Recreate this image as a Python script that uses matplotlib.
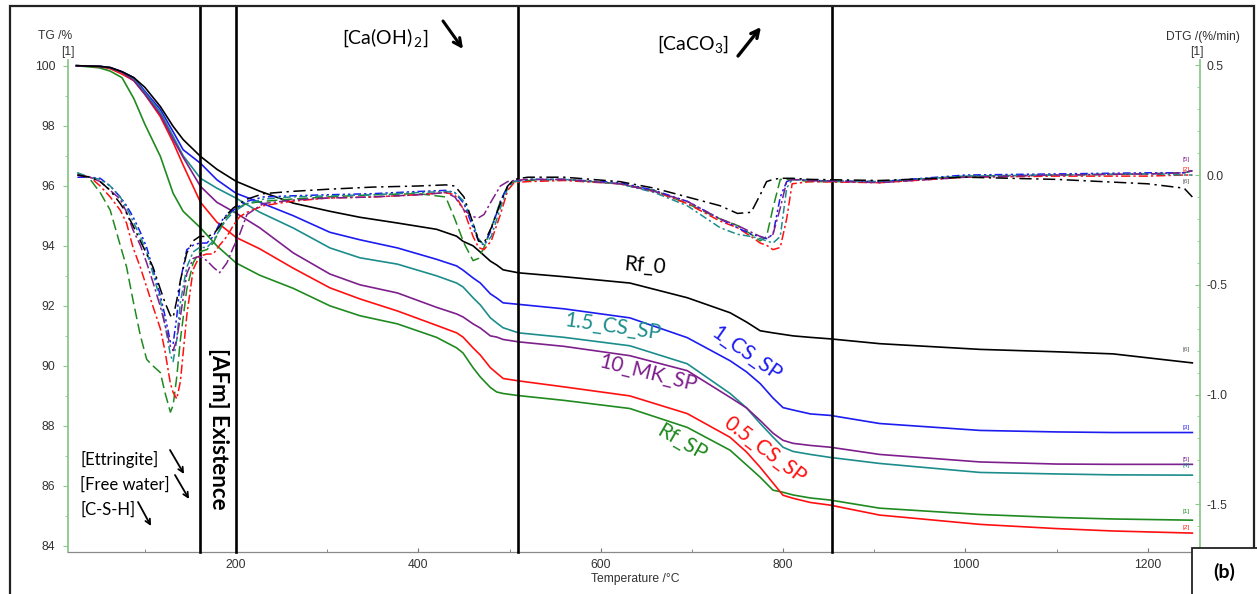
import numpy as np
import matplotlib
matplotlib.use("Agg")
import matplotlib.pyplot as plt
from matplotlib.patches import Rectangle

plt.rcParams["axes.unicode_minus"] = False
plt.rcParams["mathtext.fontset"] = "custom"
plt.rcParams["mathtext.rm"] = "Lato"
plt.rcParams["mathtext.it"] = "Lato"

# ---------------- data ----------------
names = ["Rf_SP", "0.5_CS_SP", "1_CS_SP", "1.5_CS_SP", "10_MK_SP", "Rf_0"]
colors = ["#1f8a1f", "#ff1010", "#1c1cf0", "#1c8c8c", "#7d1f8c", "#000000"]

# TG curves, %
t_tg = [25, 50, 62, 75, 88, 100, 117, 131, 142, 161,
        179, 200, 226, 263, 303, 336, 377, 420, 442, 449,
        460, 468, 479, 486, 493, 510, 560, 632, 695, 742,
        760, 775, 789, 800, 811, 830, 852, 906, 1016, 1100,
        1162, 1249]
tg_rf_sp = [100, 99.93, 99.82, 99.6, 98.9, 98.05, 96.98, 95.75, 95.15, 94.6,
            94.0, 93.43, 93.02, 92.58, 92.0, 91.67, 91.4, 90.95, 90.6, 90.43,
            89.94, 89.63, 89.28, 89.13, 89.08, 89.01, 88.85, 88.58, 87.95, 87.19,
            86.7, 86.29, 85.86, 85.79, 85.7, 85.6, 85.53, 85.26, 85.05, 84.95,
            84.9, 84.86]
tg_05 = [100, 99.97, 99.9, 99.72, 99.5, 99.05, 98.3, 97.45, 96.69, 95.45,
         94.79, 94.28, 93.9, 93.25, 92.6, 92.23, 91.83, 91.35, 91.1, 90.96,
         90.6, 90.36, 89.94, 89.76, 89.58, 89.5, 89.3, 89.0, 88.41, 87.62,
         87.13, 86.62, 86.1, 85.69, 85.59, 85.45, 85.36, 85.03, 84.72, 84.58,
         84.5, 84.43]
tg_1 = [100, 99.98, 99.94, 99.8, 99.6, 99.15, 98.54, 97.8, 97.2, 96.75,
        96.2, 95.75, 95.45, 95.0, 94.45, 94.2, 93.93, 93.55, 93.33, 93.19,
        92.93, 92.76, 92.4, 92.26, 92.1, 92.05, 91.9, 91.6, 90.94, 90.17,
        89.8, 89.41, 88.93, 88.61, 88.53, 88.4, 88.35, 88.08, 87.85, 87.8,
        87.78, 87.78]
tg_15 = [100, 99.98, 99.93, 99.78, 99.55, 99.1, 98.45, 97.65, 97.0, 96.25,
         95.92, 95.59, 95.12, 94.59, 93.93, 93.6, 93.39, 93.0, 92.76, 92.63,
         92.27, 92.03, 91.6, 91.43, 91.27, 91.1, 90.95, 90.67, 90.07, 89.08,
         88.6, 88.08, 87.63, 87.29, 87.15, 87.05, 86.95, 86.75, 86.45, 86.4,
         86.37, 86.36]
tg_10mk = [100, 99.98, 99.93, 99.78, 99.5, 99.05, 98.37, 97.55, 96.95, 95.98,
           95.45, 95.09, 94.6, 93.76, 93.06, 92.7, 92.43, 91.95, 91.73, 91.63,
           91.4, 91.26, 91.0, 90.96, 90.88, 90.8, 90.65, 90.34, 89.84, 88.95,
           88.6, 88.18, 87.76, 87.52, 87.42, 87.35, 87.29, 87.05, 86.8, 86.73,
           86.72, 86.72]
tg_rf0 = [100, 99.98, 99.94, 99.8, 99.6, 99.28, 98.64, 97.98, 97.54, 96.98,
          96.55, 96.15, 95.82, 95.42, 95.15, 94.95, 94.76, 94.55, 94.32, 94.15,
          94.0, 93.79, 93.49, 93.36, 93.2, 93.1, 92.97, 92.76, 92.27, 91.77,
          91.46, 91.17, 91.1, 91.05, 91.0, 90.95, 90.9, 90.74, 90.55, 90.47,
          90.4, 90.1]

# DTG curves, %/min
t_dtg = [26, 40, 51, 62, 73, 80, 87, 95, 102, 109,
         117, 122, 128, 131, 135, 139, 146, 153, 160, 168,
         175, 182, 190, 197, 204, 212, 230, 260, 300, 350,
         400, 430, 440, 450, 460, 466, 472, 480, 490, 498,
         505, 520, 560, 621, 659, 695, 731, 750, 765, 775,
         782, 789, 797, 804, 810, 830, 906, 1000, 1100, 1200,
         1240, 1249]
dtg_rf_sp = [0.01, -0.02, -0.08, -0.16, -0.32, -0.42, -0.57, -0.73, -0.84, -0.87,
             -0.90, -0.99, -1.08, -1.05, -0.92, -0.75, -0.52, -0.40, -0.35, -0.34,
             -0.31, -0.25, -0.19, -0.16, -0.145, -0.13, -0.12, -0.11, -0.10, -0.09,
             -0.085, -0.10, -0.20, -0.31, -0.39, -0.38, -0.33, -0.24, -0.12, -0.05,
             -0.03, -0.025, -0.02, -0.04, -0.07, -0.13, -0.20, -0.23, -0.27, -0.30,
             -0.28, -0.15, -0.02, -0.02, -0.02, -0.03, -0.03, -0.005, 0.0, 0.005,
             0.01, 0.02]
dtg_05 = [0.0, -0.01, -0.05, -0.10, -0.16, -0.22, -0.33, -0.42, -0.51, -0.60,
          -0.70, -0.80, -0.95, -0.99, -1.02, -0.94, -0.64, -0.43, -0.37, -0.36,
          -0.36, -0.32, -0.28, -0.23, -0.19, -0.17, -0.14, -0.12, -0.105, -0.10,
          -0.09, -0.08, -0.09, -0.16, -0.28, -0.33, -0.34, -0.30, -0.18, -0.07,
          -0.035, -0.03, -0.025, -0.04, -0.075, -0.13, -0.21, -0.24, -0.28, -0.31,
          -0.32, -0.34, -0.33, -0.20, -0.04, -0.03, -0.035, -0.01, -0.005, -0.005,
          0.0, 0.0]
dtg_1 = [-0.01, -0.01, -0.015, -0.05, -0.10, -0.14, -0.19, -0.26, -0.33, -0.43,
         -0.55, -0.64, -0.76, -0.77, -0.645, -0.48, -0.34, -0.32, -0.31, -0.31,
         -0.28, -0.22, -0.18, -0.16, -0.14, -0.12, -0.10, -0.095, -0.09, -0.085,
         -0.075, -0.07, -0.08, -0.13, -0.24, -0.30, -0.32, -0.25, -0.12, -0.05,
         -0.03, -0.02, -0.02, -0.035, -0.07, -0.12, -0.20, -0.24, -0.27, -0.28,
         -0.29, -0.27, -0.10, -0.03, -0.02, -0.025, -0.03, 0.0, 0.005, 0.01,
         0.01, 0.02]
dtg_15 = [0.01, -0.01, -0.02, -0.05, -0.10, -0.15, -0.21, -0.28, -0.35, -0.45,
          -0.57, -0.68, -0.82, -0.85, -0.75, -0.58, -0.42, -0.35, -0.33, -0.33,
          -0.30, -0.25, -0.20, -0.17, -0.15, -0.13, -0.11, -0.10, -0.095, -0.09,
          -0.08, -0.075, -0.08, -0.12, -0.22, -0.29, -0.32, -0.28, -0.15, -0.06,
          -0.03, -0.02, -0.02, -0.04, -0.08, -0.14, -0.24, -0.27, -0.28, -0.29,
          -0.30, -0.31, -0.28, -0.06, -0.02, -0.025, -0.03, -0.005, 0.0, 0.005,
          0.0, 0.0]
dtg_10mk = [0.0, -0.01, -0.03, -0.07, -0.11, -0.17, -0.25, -0.32, -0.40, -0.49,
            -0.60, -0.68, -0.78, -0.80, -0.75, -0.645, -0.45, -0.38, -0.37, -0.39,
            -0.42, -0.445, -0.40, -0.33, -0.27, -0.18, -0.13, -0.115, -0.105, -0.10,
            -0.09, -0.08, -0.10, -0.16, -0.19, -0.195, -0.18, -0.12, -0.05, -0.03,
            -0.025, -0.02, -0.02, -0.04, -0.075, -0.12, -0.20, -0.23, -0.26, -0.28,
            -0.29, -0.27, -0.15, -0.03, -0.02, -0.025, -0.035, -0.01, 0.0, 0.005,
            0.01, 0.02]
dtg_rf0 = [0.0, -0.01, -0.03, -0.07, -0.13, -0.175, -0.23, -0.30, -0.36, -0.42,
           -0.52, -0.58, -0.64, -0.65, -0.57, -0.48, -0.355, -0.30, -0.28, -0.28,
           -0.27, -0.235, -0.18, -0.15, -0.13, -0.11, -0.085, -0.075, -0.065, -0.055,
           -0.05, -0.045, -0.05, -0.10, -0.22, -0.30, -0.31, -0.24, -0.13, -0.05,
           -0.02, -0.01, -0.01, -0.03, -0.06, -0.10, -0.14, -0.175, -0.17, -0.09,
           -0.03, -0.02, -0.015, -0.015, -0.015, -0.02, -0.025, -0.01, -0.02, -0.04,
           -0.06, -0.10]

tg_all = [tg_rf_sp, tg_05, tg_1, tg_15, tg_10mk, tg_rf0]
dtg_all = [dtg_rf_sp, dtg_05, dtg_1, dtg_15, dtg_10mk, dtg_rf0]
dash_styles = [(0, (7, 3)), (0, (6, 2, 1.5, 2)), (0, (5, 2, 1.5, 2, 1.5, 2)),
               (0, (5, 2, 1.5, 2)), (0, (7, 2, 1.5, 2)), (0, (8, 3, 1.5, 3))]
region_lines = [161, 200, 509, 854]

# ---------------- figure ----------------
W, H = 1257, 594


def fx(x):
    return x / W


def fy(y):
    return 1 - y / H


fig = plt.figure(figsize=(W / 100, H / 100), dpi=100)
ax = fig.add_axes([fx(68), fy(552), fx(1200) - fx(68), fy(60) - fy(552)])
ax2 = ax.twinx()

for i in range(6):
    ax.plot(t_tg, tg_all[i], color=colors[i], lw=1.2, zorder=3)
    ax2.plot(t_dtg, dtg_all[i], color=colors[i], lw=1.1, linestyle=dash_styles[i])

ax.set_xlim(15.7, 1257.4)
ax.set_ylim(83.8, 100.19)
ax2.set_ylim(-1.7175, 0.524)

# vertical region separators running up to the frame top
for xv in region_lines:
    ax.axvline(xv, ymin=0, ymax=(552 - 6) / (552 - 60), color="black", lw=1.9, clip_on=False, zorder=5)

tick_font = dict(family="Liberation Sans", size=8.7)
green_axis = "#8cc88c"
for a in (ax, ax2):
    a.spines["top"].set_visible(False)
ax.spines["right"].set_visible(False)
ax2.spines["left"].set_visible(False)
ax2.spines["bottom"].set_visible(False)
ax.spines["left"].set_color(green_axis)
ax2.spines["right"].set_color(green_axis)
ax.spines["bottom"].set_color("#8a8a8a")
ax.spines["left"].set_linewidth(1.3)
ax2.spines["right"].set_linewidth(1.3)
ax.spines["bottom"].set_linewidth(0.9)

ax.set_yticks([84, 86, 88, 90, 92, 94, 96, 98, 100])
ax.set_yticks(np.arange(85, 100, 2), minor=True)
ax.set_xticks([200, 400, 600, 800, 1000, 1200])
ax.set_xticks([100, 300, 500, 700, 900, 1100], minor=True)
ax2.set_yticks([-1.5, -1.0, -0.5, 0.0, 0.5])
ax2.set_yticks(np.arange(-1.7, 0.55, 0.1), minor=True)
ax2.set_yticklabels(["-1.5", "-1.0", "-0.5", "0.0", "0.5"])

ax.tick_params(axis="y", which="both", direction="out", color=green_axis, pad=5.5, labelcolor="#333333")
ax.tick_params(axis="y", which="major", length=3.5)
ax.tick_params(axis="y", which="minor", length=2.5)
ax.tick_params(axis="x", which="both", direction="in", color="#777777", pad=5, labelcolor="#333333")
ax.tick_params(axis="x", which="major", length=3)
ax.tick_params(axis="x", which="minor", length=2)
ax2.tick_params(axis="y", which="both", direction="in", color=green_axis, pad=5, labelcolor="#333333")
ax2.tick_params(axis="y", which="major", length=3.5)
ax2.tick_params(axis="y", which="minor", length=2.5)
for lab in ax.get_xticklabels() + ax.get_yticklabels() + ax2.get_yticklabels():
    lab.set_fontfamily("Liberation Sans")
    lab.set_fontsize(8.7)

# axis titles
fig.text(fx(55), fy(36), "TG /%", ha="center", va="center", color="#333333", **tick_font)
fig.text(fx(68), fy(52), "[1]", ha="center", va="center", color="#333333", **tick_font)
fig.text(fx(1203), fy(37), "DTG /(%/min)", ha="center", va="center", color="#333333", **tick_font)
fig.text(fx(1197), fy(52), "[1]", ha="center", va="center", color="#333333", **tick_font)
fig.text(fx(635), fy(579), "Temperature /°C", ha="center", va="center", color="#333333", **tick_font)

# curve labels
lab_font = ["Lato", "DejaVu Sans"]
curve_labels = [("Rf_SP", 689, 87.46, -30), ("0.5_CS_SP", 780, 87.19, -37),
                ("1_CS_SP", 760, 90.4, -35), ("1.5_CS_SP", 613, 91.3, -8),
                ("10_MK_SP", 652, 89.75, -14), ("Rf_0", 648, 93.33, -5)]
for i, (txt, xt, yt, rot) in enumerate(curve_labels):
    ax.text(xt, yt, txt, color=colors[i], fontsize=15, family=lab_font, rotation=rot,
            rotation_mode="anchor", ha="center", va="center", zorder=6)

# end-of-curve markers [n]
mark_y = [("[1]", 511, colors[0]), ("[2]", 528, colors[1]), ("[3]", 427, colors[2]),
          ("[4]", 465, colors[3]), ("[5]", 459, colors[4]), ("[6]", 350, "#555555"),
          ("[5]", 160, colors[4]), ("[2]", 170, colors[1]), ("[6]", 181, "#555555")]
for txt, yy, cc in mark_y:
    fig.text(fx(1186), fy(yy), txt, color=cc, fontsize=4.5, family="Liberation Sans", ha="center", va="center")

# annotations
fig.text(fx(385), fy(38), "[Ca(OH)$_{\\,2}$]", fontsize=14, family=lab_font, ha="center", va="center")
fig.text(fx(693), fy(44), "[CaCO$_3$]", fontsize=14, family=lab_font, ha="center", va="center")
fig.text(fx(218), fy(429), "[AFm] Existence", fontsize=16, weight="bold", family=lab_font,
         rotation=-90, ha="center", va="center")
fig.text(fx(80), fy(459), "[Ettringite]", fontsize=12, family=lab_font, ha="left", va="center")
fig.text(fx(80), fy(485), "[Free water]", fontsize=12, family=lab_font, ha="left", va="center")
fig.text(fx(80), fy(510), "[C-S-H]", fontsize=12, family=lab_font, ha="left", va="center")

arrows = [((443, 21), (463, 49), 2.2, 14), ((738, 56), (761, 27), 2.4, 14),
          ((170, 450), (184, 474), 1.3, 9), ((175, 475), (189, 499), 1.3, 9),
          ((138, 502), (151, 526), 1.3, 9)]
for (x0, y0), (x1, y1), lw, ms in arrows:
    ax.annotate("", xy=(x1, H - y1), xytext=(x0, H - y0), xycoords="figure pixels",
                textcoords="figure pixels", annotation_clip=False,
                arrowprops=dict(arrowstyle="->", lw=lw, color="black", shrinkA=0, shrinkB=0,
                                mutation_scale=ms))

# outer frame and panel tag
fig.add_artist(Rectangle((fx(10), -0.02), fx(1254) - fx(10), fy(6) + 0.02, transform=fig.transFigure,
                         fill=False, lw=1.6, ec="#222222"))
fig.add_artist(Rectangle((fx(1192), -0.02), fx(1257) - fx(1192) + 0.01, fy(548) + 0.02,
                         transform=fig.transFigure, fc="white", ec="#222222", lw=1.3, zorder=10))
fig.text(fx(1224), fy(572), "(b)", fontsize=14, weight="bold", family=lab_font,
         ha="center", va="center", zorder=11)

fig.savefig("out.png", dpi=100)
